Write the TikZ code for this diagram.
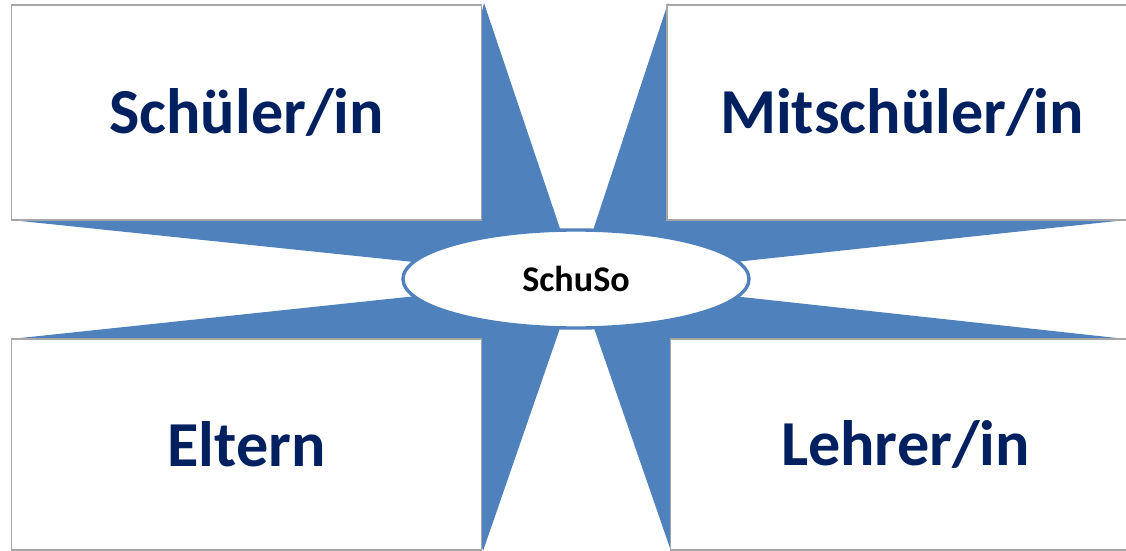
\documentclass[tikz,border=0pt]{standalone}
\usepackage{fontspec}
\setmainfont{Carlito}
\usetikzlibrary{shapes.geometric}
\definecolor{starblue}{HTML}{4F81BD}
\definecolor{boxgray}{HTML}{A6A6A6}
\definecolor{labelnavy}{HTML}{002060}

\begin{document}
\begin{tikzpicture}[x=0.025cm, y=0.025cm]
\tikzstyle{every node}+=[inner sep=0pt]
\tikzstyle{rolebox}=[draw=boxgray, line width=1.1pt, fill=white, minimum width=11.75cm, text=labelnavy, font=\fontsize{45.6}{50}\selectfont\bfseries]
\tikzstyle{hub}=[ellipse, draw=starblue, line width=2.4pt, fill=white, minimum width=8.65cm, minimum height=2.45cm, font=\fontsize{25.7}{30}\selectfont\bfseries]
\useasboundingbox (0,0) rectangle (1126,-551);
\clip (0,0) rectangle (1126,-551);
\coordinate (mid) at (577,-279);
\fill [starblue] (484,-3) -- (440,-180) -- (11,-220) -- (mid) -- (11,-339) -- (440,-380) -- (483,-551) -- (mid) -- (671,-551) -- (720,-380) -- (1126,-339) -- (mid) -- (1126,-220) -- (720,-180) -- (668,-3) -- (mid) -- cycle;
\node [rolebox, minimum height=5.375cm] (schueler) at (246.5,-112.5) {Schüler/in};
\node [rolebox, minimum height=5.375cm] (mitschueler) at (902,-112.5) {Mitschüler/in};
\node [rolebox, minimum height=5.275cm] (eltern) at (246.5,-444.5) {Eltern};
\node [rolebox, minimum height=5.275cm] (lehrer) at (905.5,-444.5) {Lehrer/in};
\node [hub] (schuso) at (576,-279) {SchuSo};
\end{tikzpicture}
\end{document}
